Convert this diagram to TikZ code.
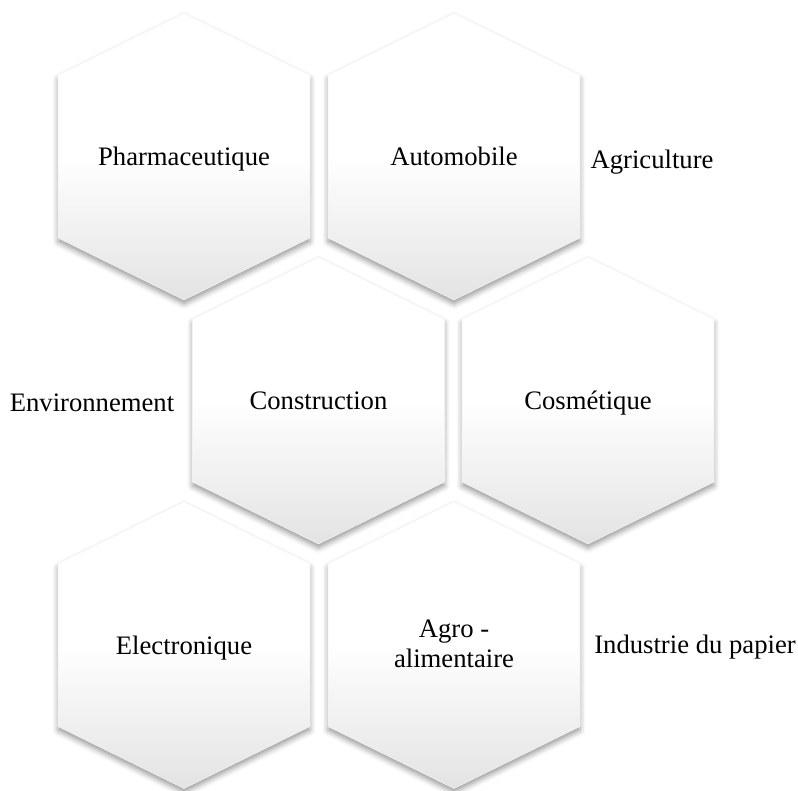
\documentclass[tikz,border=0pt]{standalone}
\usepackage{fontspec}
\setmainfont{Liberation Serif}
\usetikzlibrary{shadows.blur}

\tikzset{
  hexcell/.style={draw=black!5, line width=0.4pt, top color=white, bottom color=black!11, middle color=white,
    blur shadow={shadow xshift=0pt, shadow yshift=-3pt, shadow blur radius=4pt, shadow opacity=40}},
  celltext/.style={align=center, inner sep=0.75pt, anchor=mid}
}

\begin{document}
\begin{tikzpicture}[x=0.75pt,y=0.75pt,yscale=-1,xscale=1,font=\fontsize{20}{22}\selectfont]
	\useasboundingbox (0,0) rectangle (798,790);
	% hexagon cells, row by row
	\foreach \cx/\cy/\ty/\name/\txt in {184/156.5/162/pharma/Pharmaceutique, 454/156.5/162/auto/Automobile,
	    318.5/400.5/406.5/constr/Construction, 588/400.5/406.5/cosmet/Cosmétique,
	    184/645/651/electro/Electronique, 454/645/664/agro/{Agro -\\alimentaire}}
	{
	\draw [hexcell] (\cx-126,\cy-81.5) -- (\cx,\cy-143.5) -- (\cx+126,\cy-81.5) -- (\cx+126,\cy+81.5) -- (\cx,\cy+143.5) -- (\cx-126,\cy+81.5) -- cycle ;
	\node [celltext] (\name) at (\cx,\ty) {\txt};
	}
	% free labels
	\node [celltext] (agri) at (652,165) {Agriculture};
	\node [celltext] (envir) at (92,408) {Environnement};
	\node [celltext] (papier) at (695,650) {Industrie du papier};
\end{tikzpicture}
\end{document}
